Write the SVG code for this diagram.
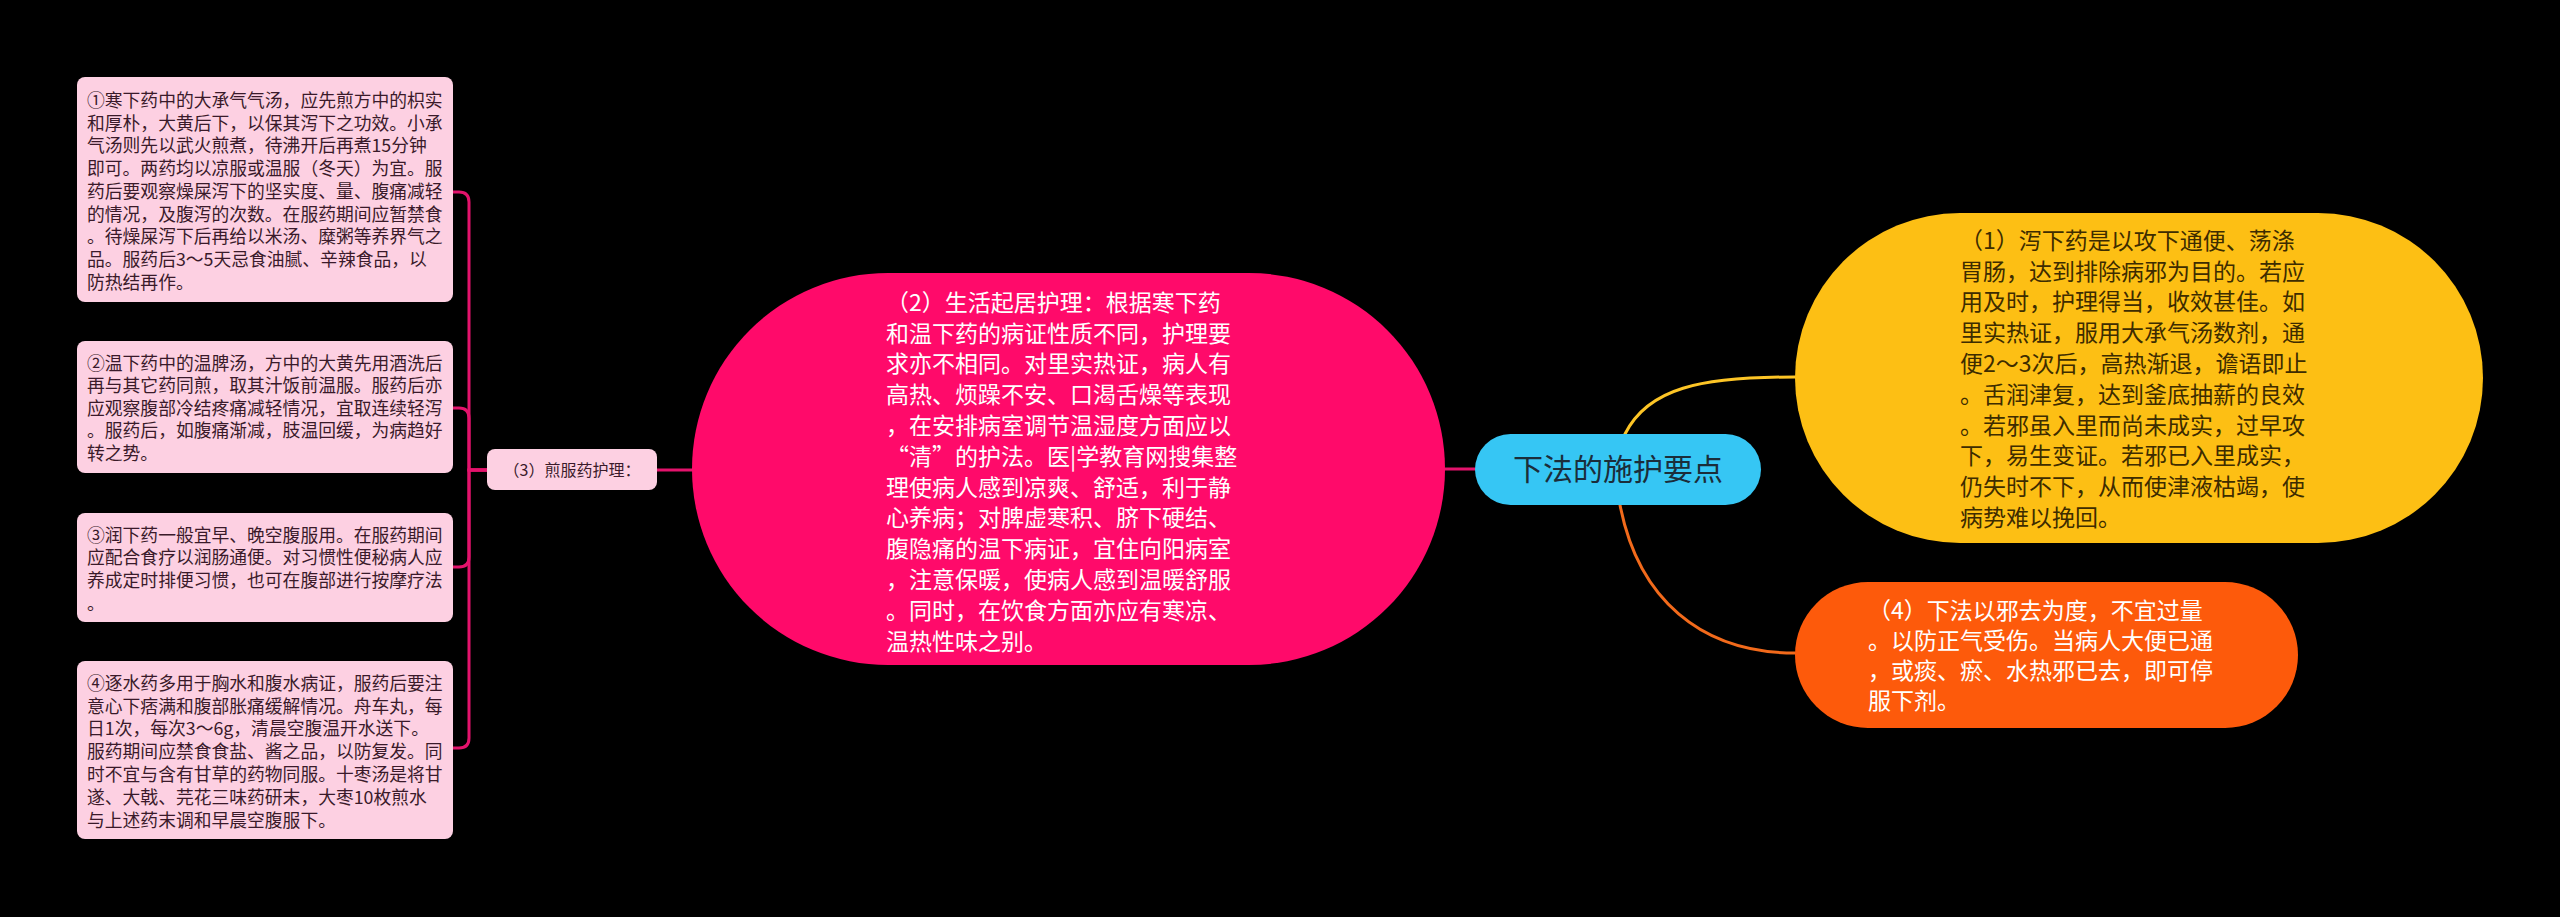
<svg xmlns="http://www.w3.org/2000/svg" width="2560" height="917" viewBox="0 0 2560 917">
<style>
.t{font-family:"Noto Sans CJK SC","Noto Sans",sans-serif;}
.box{fill:#fdd0e2;}
.bt{font-size:17.8px;fill:#3a1a2a;}
.nt{font-size:23px;}
.conn{fill:none;stroke-width:3;stroke-linecap:round;}
.pk{stroke:#e3136c;}
</style>
<rect x="0" y="0" width="2560" height="917" fill="#000"/>
<g id="connectors">
<path class="conn pk" d="M1475,469 H1445"/>
<path class="conn pk" d="M692,470 H657"/>
<path class="conn pk" d="M487,470 H469 V202 Q469,192 459,192 H453"/>
<path class="conn pk" d="M487,470 H469 V418 Q469,408 459,408 H453"/>
<path class="conn pk" d="M487,470 H469 V557 Q469,567 459,567 H453"/>
<path class="conn pk" d="M487,470 H469 V738 Q469,748 459,748 H453"/>
<path class="conn" stroke="#fdc526" stroke-width="2.5" d="M1625,434 C1648,388 1700,377 1795,377"/>
<path class="conn" stroke="#f26a1b" stroke-width="2.5" d="M1620,505 C1638,598 1700,653 1795,653"/>
</g>
<g id="center">
<rect x="1475" y="434" width="286" height="71" rx="35.5" fill="#36c6f4"/>
<text class="t" x="1618" y="480" font-size="30" fill="#1b2d3a" text-anchor="middle">下法的施护要点</text>
</g>
<g id="node-2">
<rect x="692" y="273" width="753" height="392" rx="196" fill="#ff0a6a"/>
<text class="t nt" fill="#ffffff">
<tspan x="886" y="310.7">（2）生活起居护理：根据寒下药</tspan>
<tspan x="886" y="341.5">和温下药的病证性质不同，护理要</tspan>
<tspan x="886" y="372.3">求亦不相同。对里实热证，病人有</tspan>
<tspan x="886" y="403.1">高热、烦躁不安、口渴舌燥等表现</tspan>
<tspan x="886" y="433.9">，在安排病室调节温湿度方面应以</tspan>
<tspan x="886" y="464.7">“清”的护法。医|学教育网搜集整</tspan>
<tspan x="886" y="495.5">理使病人感到凉爽、舒适，利于静</tspan>
<tspan x="886" y="526.3">心养病；对脾虚寒积、脐下硬结、</tspan>
<tspan x="886" y="557.1">腹隐痛的温下病证，宜住向阳病室</tspan>
<tspan x="886" y="587.9">，注意保暖，使病人感到温暖舒服</tspan>
<tspan x="886" y="618.7">。同时，在饮食方面亦应有寒凉、</tspan>
<tspan x="886" y="649.5">温热性味之别。</tspan>
</text>
</g>
<g id="node-3">
<rect x="487" y="449" width="170" height="41" rx="8" class="box"/>
<text class="t" x="572" y="476" font-size="16" fill="#3a1a2a" text-anchor="middle">（3）煎服药护理：</text>
</g>
<g id="box-1">
<rect x="77" y="77" width="376" height="225" rx="8" class="box"/>
<text class="t bt">
<tspan x="87" y="106.8">①寒下药中的大承气气汤，应先煎方中的枳实</tspan>
<tspan x="87" y="129.5">和厚朴，大黄后下，以保其泻下之功效。小承</tspan>
<tspan x="87" y="152.3">气汤则先以武火煎煮，待沸开后再煮15分钟</tspan>
<tspan x="87" y="175">即可。两药均以凉服或温服（冬天）为宜。服</tspan>
<tspan x="87" y="197.8">药后要观察燥屎泻下的坚实度、量、腹痛减轻</tspan>
<tspan x="87" y="220.5">的情况，及腹泻的次数。在服药期间应暂禁食</tspan>
<tspan x="87" y="243.3">。待燥屎泻下后再给以米汤、糜粥等养界气之</tspan>
<tspan x="87" y="266">品。服药后3～5天忌食油腻、辛辣食品，以</tspan>
<tspan x="87" y="288.8">防热结再作。</tspan>
</text>
</g>
<g id="box-2">
<rect x="77" y="341" width="376" height="132" rx="8" class="box"/>
<text class="t bt">
<tspan x="87" y="369.8">②温下药中的温脾汤，方中的大黄先用酒洗后</tspan>
<tspan x="87" y="392.3">再与其它药同煎，取其汁饭前温服。服药后亦</tspan>
<tspan x="87" y="414.8">应观察腹部冷结疼痛减轻情况，宜取连续轻泻</tspan>
<tspan x="87" y="437.3">。服药后，如腹痛渐减，肢温回缓，为病趋好</tspan>
<tspan x="87" y="459.8">转之势。</tspan>
</text>
</g>
<g id="box-3">
<rect x="77" y="513" width="376" height="109" rx="8" class="box"/>
<text class="t bt">
<tspan x="87" y="541.8">③润下药一般宜早、晚空腹服用。在服药期间</tspan>
<tspan x="87" y="564.4">应配合食疗以润肠通便。对习惯性便秘病人应</tspan>
<tspan x="87" y="587">养成定时排便习惯，也可在腹部进行按摩疗法</tspan>
<tspan x="87" y="609.6">。</tspan>
</text>
</g>
<g id="box-4">
<rect x="77" y="661" width="376" height="178" rx="8" class="box"/>
<text class="t bt">
<tspan x="87" y="689.8">④逐水药多用于胸水和腹水病证，服药后要注</tspan>
<tspan x="87" y="712.6">意心下痞满和腹部胀痛缓解情况。舟车丸，每</tspan>
<tspan x="87" y="735.4">日1次，每次3～6g，清晨空腹温开水送下。</tspan>
<tspan x="87" y="758.2">服药期间应禁食食盐、酱之品，以防复发。同</tspan>
<tspan x="87" y="781">时不宜与含有甘草的药物同服。十枣汤是将甘</tspan>
<tspan x="87" y="803.8">遂、大戟、芫花三味药研末，大枣10枚煎水</tspan>
<tspan x="87" y="826.6">与上述药末调和早晨空腹服下。</tspan>
</text>
</g>
<g id="node-1">
<rect x="1795" y="213" width="688" height="330" rx="165" fill="#fdbf14"/>
<text class="t nt" fill="#3d2c00">
<tspan x="1960" y="248.7">（1）泻下药是以攻下通便、荡涤</tspan>
<tspan x="1960" y="279.5">胃肠，达到排除病邪为目的。若应</tspan>
<tspan x="1960" y="310.3">用及时，护理得当，收效甚佳。如</tspan>
<tspan x="1960" y="341.1">里实热证，服用大承气汤数剂，通</tspan>
<tspan x="1960" y="371.9">便2～3次后，高热渐退，谵语即止</tspan>
<tspan x="1960" y="402.7">。舌润津复，达到釜底抽薪的良效</tspan>
<tspan x="1960" y="433.5">。若邪虽入里而尚未成实，过早攻</tspan>
<tspan x="1960" y="464.3">下，易生变证。若邪已入里成实，</tspan>
<tspan x="1960" y="495.1">仍失时不下，从而使津液枯竭，使</tspan>
<tspan x="1960" y="525.9">病势难以挽回。</tspan>
</text>
</g>
<g id="node-4">
<rect x="1795" y="582" width="503" height="146" rx="73" fill="#fd5a0b"/>
<text class="t nt" fill="#ffffff">
<tspan x="1868" y="618.7">（4）下法以邪去为度，不宜过量</tspan>
<tspan x="1868" y="648.7">。以防正气受伤。当病人大便已通</tspan>
<tspan x="1868" y="678.7">，或痰、瘀、水热邪已去，即可停</tspan>
<tspan x="1868" y="708.7">服下剂。</tspan>
</text>
</g>
</svg>
